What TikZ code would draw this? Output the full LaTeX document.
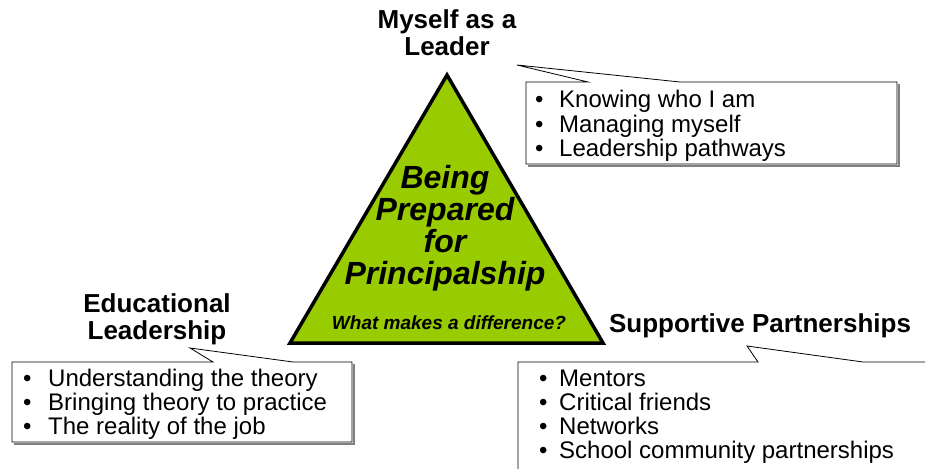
\documentclass[tikz,border=0pt]{standalone}
\usepackage{fontspec}
\setmainfont{Liberation Sans}
\usetikzlibrary{positioning}
\definecolor{leafgreen}{HTML}{99CC00}
\tikzset{
	heading/.style={font=\fontsize{26}{27}\selectfont\bfseries,align=center,anchor=base,inner sep=0pt},
	point/.style={font=\fontsize{24}{24}\selectfont,align=left,anchor=base west,inner sep=0pt},
	core/.style={font=\fontsize{32}{32}\selectfont\bfseries\itshape,align=center,anchor=base,inner sep=0pt},
	subq/.style={font=\fontsize{19}{19}\selectfont\bfseries\itshape,anchor=base,inner sep=0pt},
	callout/.style={draw=black,line width=0.8pt,fill=white,line join=miter},
	shade/.style={draw=gray,line width=2pt},
	pyramid/.style={draw=black,line width=3.5pt,fill=leafgreen,line join=miter}
}
\newcommand{\bul}[1][24pt]{\makebox[#1][l]{\textbullet}}

\begin{document}
\begin{tikzpicture}[x=1pt,y=-1pt]
	\useasboundingbox (0,0) rectangle (925,468);
	% triangle
	\coordinate (apex) at (447,75);
	\coordinate (botleft) at (290,343);
	\coordinate (botright) at (603,343);
	\draw[pyramid] (apex) -- (botright) -- (botleft) -- cycle;
	\node[core] (core) at (445,284) {Being\\Prepared\\for\\Principalship};
	\node[subq] (question) at (449,329) {What makes a difference?};

	% headings (base = last line)
	\node[heading] (selfhead) at (447,56) {Myself as a\\Leader};
	\node[heading] (eduhead) at (157,339) {Educational\\Leadership};
	\node[heading] (parthead) at (760,332) {Supportive Partnerships};

	% top callout
	\coordinate (selftip) at (517,65);
	\draw[shade] (899,84) -- (899,166) -- (528,166);
	\draw[callout] (526,82) -- (588,82) -- (selftip) -- (680,82) -- (897,82) -- (897,164) -- (526,164) -- cycle;
	\node[point] (selfpts) at (535,156) {\bul Knowing who I am\\\bul Managing myself\\\bul Leadership pathways};

	% left callout
	\coordinate (edutip) at (190,348);
	\draw[shade] (354,364) -- (354,444) -- (14,444);
	\draw[callout] (12,362) -- (213,362) -- (edutip) -- (293,362) -- (352,362) -- (352,442) -- (12,442) -- cycle;
	\node[point] (edupts) at (23,434) {\bul[25pt]Understanding the theory\\\bul[25pt]Bringing theory to practice\\\bul[25pt]The reality of the job};

	% right callout
	\coordinate (parttip) at (747,346);
	\draw[callout] (518,480) -- (518,362) -- (758,362) -- (parttip) -- (863,362) -- (940,362) -- (940,480) -- cycle;
	\node[point] (partpts) at (539,458) {\bul[20pt]Mentors\\\bul[20pt]Critical friends\\\bul[20pt]Networks\\\bul[20pt]School community partnerships};
\end{tikzpicture}
\end{document}
